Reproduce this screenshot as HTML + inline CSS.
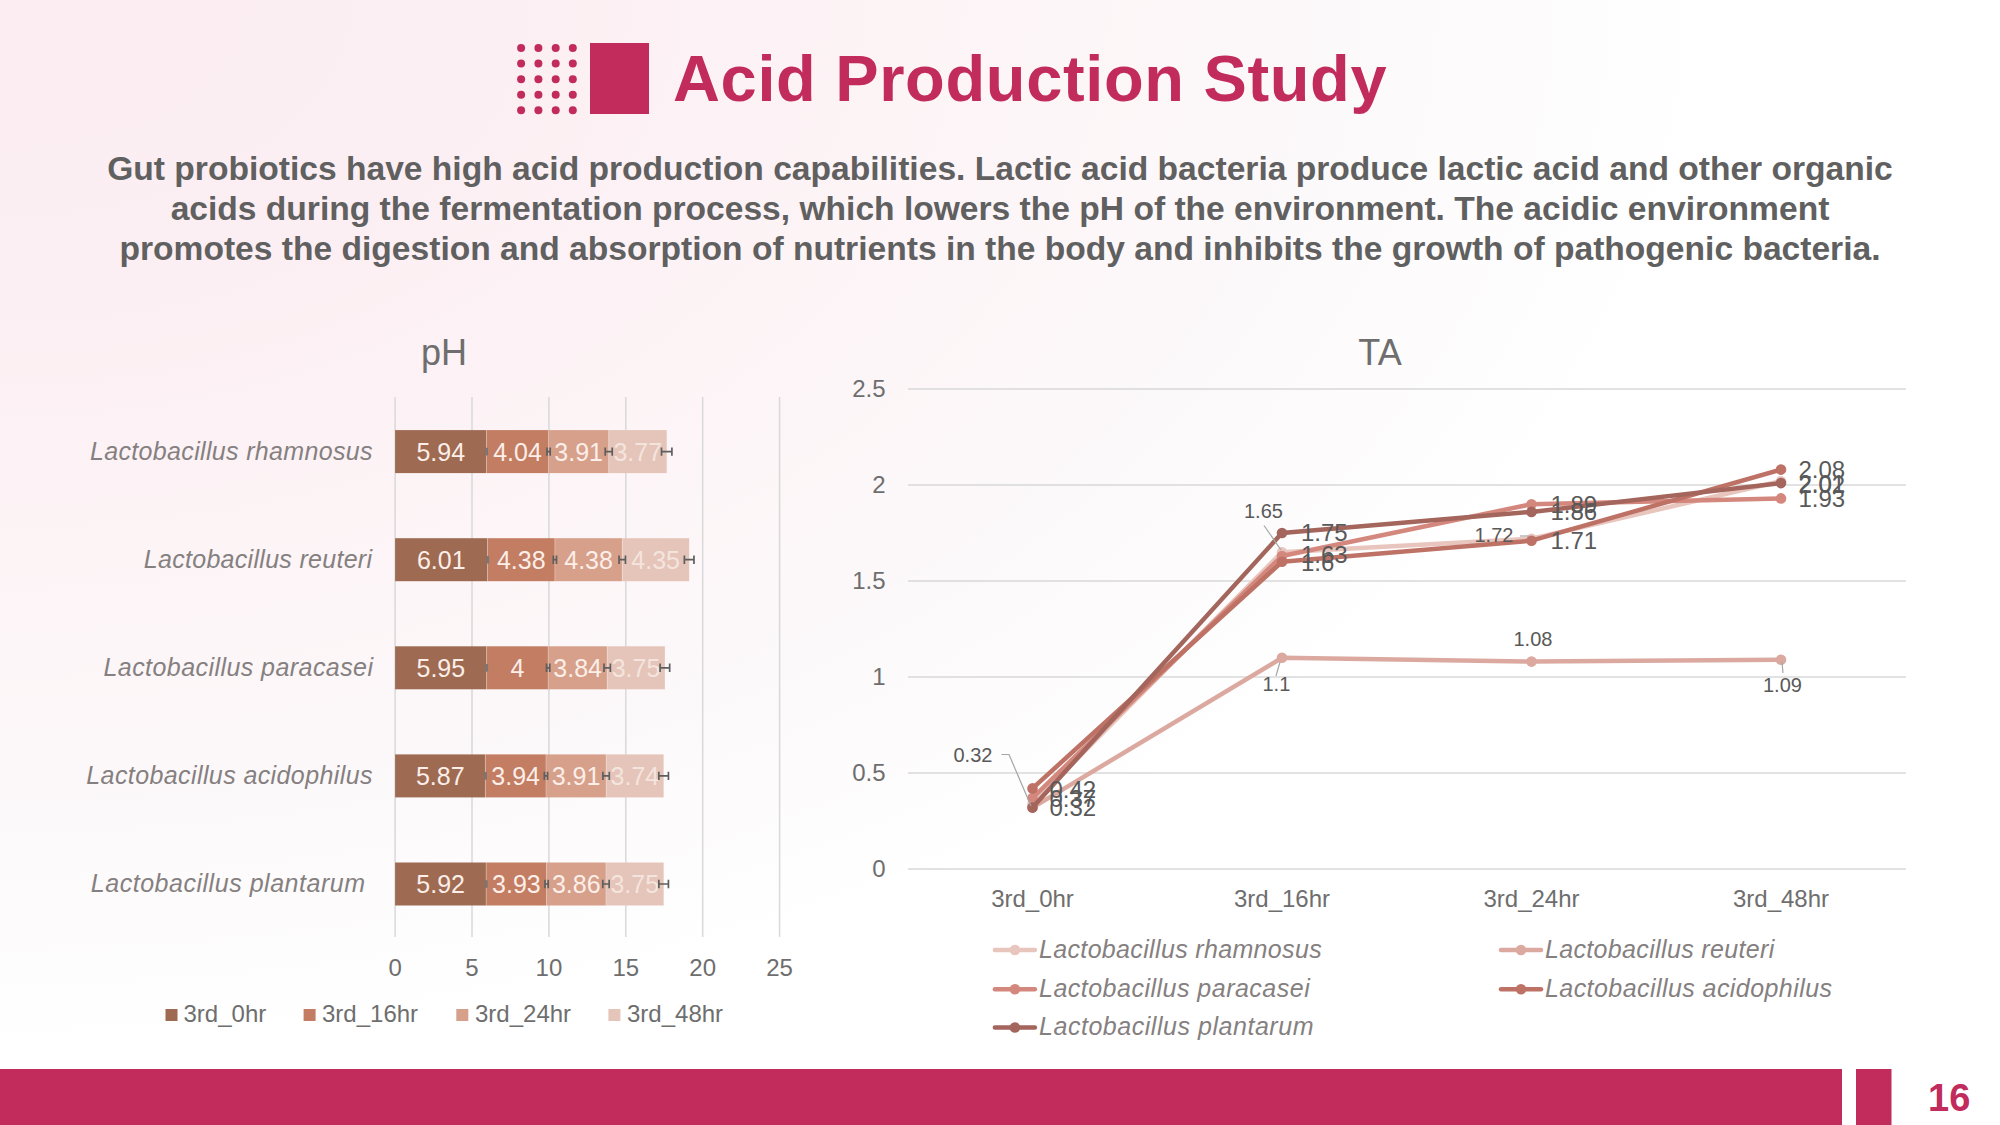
<!DOCTYPE html>
<html><head><meta charset="utf-8"><title>Acid Production Study</title>
<style>
html,body{margin:0;padding:0;}
body{width:2000px;height:1125px;overflow:hidden;position:relative;font-family:"Liberation Sans", sans-serif;
background:radial-gradient(ellipse 1800px 1100px at 0 0,#FBEDF1 0%,#FCEFF3 28%,#FDF5F7 55%,#FCF9FA 75%,#FFFFFF 95%);}
svg{position:absolute;left:0;top:0;}
</style></head><body>
<svg width="2000" height="1125" viewBox="0 0 2000 1125" font-family='"Liberation Sans", sans-serif'>

<circle cx="521.1" cy="48.0" r="4" fill="#C12C5C"/>
<circle cx="521.1" cy="63.6" r="4" fill="#C12C5C"/>
<circle cx="521.1" cy="79.2" r="4" fill="#C12C5C"/>
<circle cx="521.1" cy="94.8" r="4" fill="#C12C5C"/>
<circle cx="521.1" cy="110.2" r="4" fill="#C12C5C"/>
<circle cx="538.4" cy="48.0" r="4" fill="#C12C5C"/>
<circle cx="538.4" cy="63.6" r="4" fill="#C12C5C"/>
<circle cx="538.4" cy="79.2" r="4" fill="#C12C5C"/>
<circle cx="538.4" cy="94.8" r="4" fill="#C12C5C"/>
<circle cx="538.4" cy="110.2" r="4" fill="#C12C5C"/>
<circle cx="555.7" cy="48.0" r="4" fill="#C12C5C"/>
<circle cx="555.7" cy="63.6" r="4" fill="#C12C5C"/>
<circle cx="555.7" cy="79.2" r="4" fill="#C12C5C"/>
<circle cx="555.7" cy="94.8" r="4" fill="#C12C5C"/>
<circle cx="555.7" cy="110.2" r="4" fill="#C12C5C"/>
<circle cx="572.8" cy="48.0" r="4" fill="#C12C5C"/>
<circle cx="572.8" cy="63.6" r="4" fill="#C12C5C"/>
<circle cx="572.8" cy="79.2" r="4" fill="#C12C5C"/>
<circle cx="572.8" cy="94.8" r="4" fill="#C12C5C"/>
<circle cx="572.8" cy="110.2" r="4" fill="#C12C5C"/>
<rect x="590" y="43" width="59" height="71" fill="#C12C5C"/>
<text x="673" y="101" font-size="65" font-weight="bold" fill="#C12C5C" letter-spacing="0.65">Acid Production Study</text>
<text x="1000" y="180" font-size="33.6" font-weight="bold" fill="#606060" text-anchor="middle">Gut probiotics have high acid production capabilities. Lactic acid bacteria produce lactic acid and other organic</text>
<text x="1000" y="220" font-size="33.6" font-weight="bold" fill="#606060" text-anchor="middle">acids during the fermentation process, which lowers the pH of the environment. The acidic environment</text>
<text x="1000" y="260" font-size="33.6" font-weight="bold" fill="#606060" text-anchor="middle">promotes the digestion and absorption of nutrients in the body and inhibits the growth of pathogenic bacteria.</text>
<text x="444" y="364.5" font-size="36" fill="#6E6E6E" text-anchor="middle">pH</text>
<line x1="395.1" y1="397" x2="395.1" y2="937" stroke="#D9D9D9" stroke-width="1.5"/>
<text x="395.1" y="975.5" font-size="24" fill="#6E6E6E" text-anchor="middle">0</text>
<line x1="472.0" y1="397" x2="472.0" y2="937" stroke="#D9D9D9" stroke-width="1.5"/>
<text x="472.0" y="975.5" font-size="24" fill="#6E6E6E" text-anchor="middle">5</text>
<line x1="548.9" y1="397" x2="548.9" y2="937" stroke="#D9D9D9" stroke-width="1.5"/>
<text x="548.9" y="975.5" font-size="24" fill="#6E6E6E" text-anchor="middle">10</text>
<line x1="625.8" y1="397" x2="625.8" y2="937" stroke="#D9D9D9" stroke-width="1.5"/>
<text x="625.8" y="975.5" font-size="24" fill="#6E6E6E" text-anchor="middle">15</text>
<line x1="702.7" y1="397" x2="702.7" y2="937" stroke="#D9D9D9" stroke-width="1.5"/>
<text x="702.7" y="975.5" font-size="24" fill="#6E6E6E" text-anchor="middle">20</text>
<line x1="779.6" y1="397" x2="779.6" y2="937" stroke="#D9D9D9" stroke-width="1.5"/>
<text x="779.6" y="975.5" font-size="24" fill="#6E6E6E" text-anchor="middle">25</text>
<text x="90.0" y="459.6" font-size="25" font-style="italic" fill="#858080" textLength="282.5" lengthAdjust="spacing">Lactobacillus rhamnosus</text>
<rect x="395.10" y="430.10" width="91.36" height="43.0" fill="#9E6A51"/>
<rect x="486.46" y="430.10" width="62.14" height="43.0" fill="#C27D62"/>
<rect x="548.59" y="430.10" width="60.14" height="43.0" fill="#D6A08B"/>
<rect x="608.73" y="430.10" width="57.98" height="43.0" fill="#E5C5B9"/>
<text x="440.78" y="460.6" font-size="25" fill="#FCEEE8" text-anchor="middle">5.94</text>
<text x="517.52" y="460.6" font-size="25" fill="#FCEEE8" text-anchor="middle">4.04</text>
<text x="578.66" y="460.6" font-size="25" fill="#FCEEE8" text-anchor="middle">3.91</text>
<text x="637.72" y="460.6" font-size="25" fill="#F4E4DE" text-anchor="middle">3.77</text>
<rect x="485.96" y="430.10" width="1" height="43.0" fill="#FFFFFF" fill-opacity="0.28"/>
<rect x="548.09" y="430.10" width="1" height="43.0" fill="#FFFFFF" fill-opacity="0.28"/>
<rect x="608.23" y="430.10" width="1" height="43.0" fill="#FFFFFF" fill-opacity="0.28"/>
<rect x="484.96" y="447.8" width="3" height="7.6" fill="#7E7470"/>
<path d="M546.99 451.6H550.19M546.99 447.4V455.8M550.19 447.4V455.8" stroke="#5E5E5E" stroke-width="1.7" fill="none"/>
<path d="M605.23 451.6H612.23M605.23 447.4V455.8M612.23 447.4V455.8" stroke="#5E5E5E" stroke-width="1.7" fill="none"/>
<path d="M661.51 451.6H671.91M661.51 447.4V455.8M671.91 447.4V455.8" stroke="#5E5E5E" stroke-width="1.7" fill="none"/>
<text x="143.8" y="567.7" font-size="25" font-style="italic" fill="#858080" textLength="228.2" lengthAdjust="spacing">Lactobacillus reuteri</text>
<rect x="395.10" y="538.20" width="92.43" height="43.0" fill="#9E6A51"/>
<rect x="487.53" y="538.20" width="67.36" height="43.0" fill="#C27D62"/>
<rect x="554.90" y="538.20" width="67.36" height="43.0" fill="#D6A08B"/>
<rect x="622.26" y="538.20" width="66.90" height="43.0" fill="#E5C5B9"/>
<text x="441.32" y="568.7" font-size="25" fill="#FCEEE8" text-anchor="middle">6.01</text>
<text x="521.22" y="568.7" font-size="25" fill="#FCEEE8" text-anchor="middle">4.38</text>
<text x="588.58" y="568.7" font-size="25" fill="#FCEEE8" text-anchor="middle">4.38</text>
<text x="655.71" y="568.7" font-size="25" fill="#F4E4DE" text-anchor="middle">4.35</text>
<rect x="487.03" y="538.20" width="1" height="43.0" fill="#FFFFFF" fill-opacity="0.28"/>
<rect x="554.40" y="538.20" width="1" height="43.0" fill="#FFFFFF" fill-opacity="0.28"/>
<rect x="621.76" y="538.20" width="1" height="43.0" fill="#FFFFFF" fill-opacity="0.28"/>
<rect x="486.03" y="555.9" width="3" height="7.6" fill="#7E7470"/>
<path d="M553.30 559.7H556.50M553.30 555.5V563.9M556.50 555.5V563.9" stroke="#5E5E5E" stroke-width="1.7" fill="none"/>
<path d="M619.06 559.7H625.46M619.06 555.5V563.9M625.46 555.5V563.9" stroke="#5E5E5E" stroke-width="1.7" fill="none"/>
<path d="M684.37 559.7H693.97M684.37 555.5V563.9M693.97 555.5V563.9" stroke="#5E5E5E" stroke-width="1.7" fill="none"/>
<text x="103.5" y="675.8" font-size="25" font-style="italic" fill="#858080" textLength="269.5" lengthAdjust="spacing">Lactobacillus paracasei</text>
<rect x="395.10" y="646.30" width="91.51" height="43.0" fill="#9E6A51"/>
<rect x="486.61" y="646.30" width="61.52" height="43.0" fill="#C27D62"/>
<rect x="548.13" y="646.30" width="59.06" height="43.0" fill="#D6A08B"/>
<rect x="607.19" y="646.30" width="57.68" height="43.0" fill="#E5C5B9"/>
<text x="440.86" y="676.8" font-size="25" fill="#FCEEE8" text-anchor="middle">5.95</text>
<text x="517.37" y="676.8" font-size="25" fill="#FCEEE8" text-anchor="middle">4</text>
<text x="577.66" y="676.8" font-size="25" fill="#FCEEE8" text-anchor="middle">3.84</text>
<text x="636.03" y="676.8" font-size="25" fill="#F4E4DE" text-anchor="middle">3.75</text>
<rect x="486.11" y="646.30" width="1" height="43.0" fill="#FFFFFF" fill-opacity="0.28"/>
<rect x="547.63" y="646.30" width="1" height="43.0" fill="#FFFFFF" fill-opacity="0.28"/>
<rect x="606.69" y="646.30" width="1" height="43.0" fill="#FFFFFF" fill-opacity="0.28"/>
<rect x="485.11" y="664.0" width="3" height="7.6" fill="#7E7470"/>
<path d="M546.53 667.8H549.73M546.53 663.6V672.0M549.73 663.6V672.0" stroke="#5E5E5E" stroke-width="1.7" fill="none"/>
<path d="M603.99 667.8H610.39M603.99 663.6V672.0M610.39 663.6V672.0" stroke="#5E5E5E" stroke-width="1.7" fill="none"/>
<path d="M660.07 667.8H669.67M660.07 663.6V672.0M669.67 663.6V672.0" stroke="#5E5E5E" stroke-width="1.7" fill="none"/>
<text x="86.3" y="783.9" font-size="25" font-style="italic" fill="#858080" textLength="286.2" lengthAdjust="spacing">Lactobacillus acidophilus</text>
<rect x="395.10" y="754.40" width="90.28" height="43.0" fill="#9E6A51"/>
<rect x="485.38" y="754.40" width="60.60" height="43.0" fill="#C27D62"/>
<rect x="545.98" y="754.40" width="60.14" height="43.0" fill="#D6A08B"/>
<rect x="606.11" y="754.40" width="57.52" height="43.0" fill="#E5C5B9"/>
<text x="440.24" y="784.9" font-size="25" fill="#FCEEE8" text-anchor="middle">5.87</text>
<text x="515.68" y="784.9" font-size="25" fill="#FCEEE8" text-anchor="middle">3.94</text>
<text x="576.05" y="784.9" font-size="25" fill="#FCEEE8" text-anchor="middle">3.91</text>
<text x="634.87" y="784.9" font-size="25" fill="#F4E4DE" text-anchor="middle">3.74</text>
<rect x="484.88" y="754.40" width="1" height="43.0" fill="#FFFFFF" fill-opacity="0.28"/>
<rect x="545.48" y="754.40" width="1" height="43.0" fill="#FFFFFF" fill-opacity="0.28"/>
<rect x="605.61" y="754.40" width="1" height="43.0" fill="#FFFFFF" fill-opacity="0.28"/>
<rect x="483.88" y="772.1" width="3" height="7.6" fill="#7E7470"/>
<path d="M544.38 775.9H547.58M544.38 771.7V780.1M547.58 771.7V780.1" stroke="#5E5E5E" stroke-width="1.7" fill="none"/>
<path d="M602.91 775.9H609.31M602.91 771.7V780.1M609.31 771.7V780.1" stroke="#5E5E5E" stroke-width="1.7" fill="none"/>
<path d="M658.83 775.9H668.43M658.83 771.7V780.1M668.43 771.7V780.1" stroke="#5E5E5E" stroke-width="1.7" fill="none"/>
<text x="90.8" y="892.0" font-size="25" font-style="italic" fill="#858080" textLength="274.2" lengthAdjust="spacing">Lactobacillus plantarum</text>
<rect x="395.10" y="862.50" width="91.05" height="43.0" fill="#9E6A51"/>
<rect x="486.15" y="862.50" width="60.44" height="43.0" fill="#C27D62"/>
<rect x="546.59" y="862.50" width="59.37" height="43.0" fill="#D6A08B"/>
<rect x="605.96" y="862.50" width="57.68" height="43.0" fill="#E5C5B9"/>
<text x="440.62" y="893.0" font-size="25" fill="#FCEEE8" text-anchor="middle">5.92</text>
<text x="516.37" y="893.0" font-size="25" fill="#FCEEE8" text-anchor="middle">3.93</text>
<text x="576.28" y="893.0" font-size="25" fill="#FCEEE8" text-anchor="middle">3.86</text>
<text x="634.80" y="893.0" font-size="25" fill="#F4E4DE" text-anchor="middle">3.75</text>
<rect x="485.65" y="862.50" width="1" height="43.0" fill="#FFFFFF" fill-opacity="0.28"/>
<rect x="546.09" y="862.50" width="1" height="43.0" fill="#FFFFFF" fill-opacity="0.28"/>
<rect x="605.46" y="862.50" width="1" height="43.0" fill="#FFFFFF" fill-opacity="0.28"/>
<rect x="484.65" y="880.2" width="3" height="7.6" fill="#7E7470"/>
<path d="M544.99 884.0H548.19M544.99 879.8V888.2M548.19 879.8V888.2" stroke="#5E5E5E" stroke-width="1.7" fill="none"/>
<path d="M602.76 884.0H609.16M602.76 879.8V888.2M609.16 879.8V888.2" stroke="#5E5E5E" stroke-width="1.7" fill="none"/>
<path d="M658.83 884.0H668.43M658.83 879.8V888.2M668.43 879.8V888.2" stroke="#5E5E5E" stroke-width="1.7" fill="none"/>
<rect x="165.5" y="1009" width="12" height="12" fill="#9E6A51"/>
<text x="183.5" y="1022" font-size="24" fill="#6E6E6E">3rd_0hr</text>
<rect x="303.6" y="1009" width="12" height="12" fill="#C27D62"/>
<text x="322.0" y="1022" font-size="24" fill="#6E6E6E">3rd_16hr</text>
<rect x="456.3" y="1009" width="12" height="12" fill="#D6A08B"/>
<text x="475.0" y="1022" font-size="24" fill="#6E6E6E">3rd_24hr</text>
<rect x="608.4" y="1009" width="12" height="12" fill="#E5C5B9"/>
<text x="627.0" y="1022" font-size="24" fill="#6E6E6E">3rd_48hr</text>
<text x="1380" y="364.5" font-size="36" fill="#6E6E6E" text-anchor="middle">TA</text>
<line x1="908" y1="869.0" x2="1906" y2="869.0" stroke="#D9D9D9" stroke-width="1.5"/>
<text x="885.5" y="877.4" font-size="24" fill="#6E6E6E" text-anchor="end">0</text>
<line x1="908" y1="773.0" x2="1906" y2="773.0" stroke="#D9D9D9" stroke-width="1.5"/>
<text x="885.5" y="781.4" font-size="24" fill="#6E6E6E" text-anchor="end">0.5</text>
<line x1="908" y1="677.0" x2="1906" y2="677.0" stroke="#D9D9D9" stroke-width="1.5"/>
<text x="885.5" y="685.4" font-size="24" fill="#6E6E6E" text-anchor="end">1</text>
<line x1="908" y1="581.0" x2="1906" y2="581.0" stroke="#D9D9D9" stroke-width="1.5"/>
<text x="885.5" y="589.4" font-size="24" fill="#6E6E6E" text-anchor="end">1.5</text>
<line x1="908" y1="485.0" x2="1906" y2="485.0" stroke="#D9D9D9" stroke-width="1.5"/>
<text x="885.5" y="493.4" font-size="24" fill="#6E6E6E" text-anchor="end">2</text>
<line x1="908" y1="389.0" x2="1906" y2="389.0" stroke="#D9D9D9" stroke-width="1.5"/>
<text x="885.5" y="397.4" font-size="24" fill="#6E6E6E" text-anchor="end">2.5</text>
<text x="1032.5" y="907" font-size="24" fill="#6E6E6E" text-anchor="middle">3rd_0hr</text>
<text x="1282.0" y="907" font-size="24" fill="#6E6E6E" text-anchor="middle">3rd_16hr</text>
<text x="1531.5" y="907" font-size="24" fill="#6E6E6E" text-anchor="middle">3rd_24hr</text>
<text x="1781.0" y="907" font-size="24" fill="#6E6E6E" text-anchor="middle">3rd_48hr</text>
<polyline points="1032.5,803.7 1282.0,552.2 1531.5,538.8 1781.0,481.2" fill="none" stroke="#E8C5BD" stroke-width="4.5" stroke-linejoin="round" stroke-linecap="round"/>
<circle cx="1032.5" cy="803.7" r="5.3" fill="#E8C5BD"/>
<circle cx="1282.0" cy="552.2" r="5.3" fill="#E8C5BD"/>
<circle cx="1531.5" cy="538.8" r="5.3" fill="#E8C5BD"/>
<circle cx="1781.0" cy="481.2" r="5.3" fill="#E8C5BD"/>
<polyline points="1032.5,807.6 1282.0,657.8 1531.5,661.6 1781.0,659.7" fill="none" stroke="#DCA9A0" stroke-width="4.5" stroke-linejoin="round" stroke-linecap="round"/>
<circle cx="1032.5" cy="807.6" r="5.3" fill="#DCA9A0"/>
<circle cx="1282.0" cy="657.8" r="5.3" fill="#DCA9A0"/>
<circle cx="1531.5" cy="661.6" r="5.3" fill="#DCA9A0"/>
<circle cx="1781.0" cy="659.7" r="5.3" fill="#DCA9A0"/>
<polyline points="1032.5,798.0 1282.0,556.0 1531.5,504.2 1781.0,498.4" fill="none" stroke="#D4877C" stroke-width="4.5" stroke-linejoin="round" stroke-linecap="round"/>
<circle cx="1032.5" cy="798.0" r="5.3" fill="#D4877C"/>
<circle cx="1282.0" cy="556.0" r="5.3" fill="#D4877C"/>
<circle cx="1531.5" cy="504.2" r="5.3" fill="#D4877C"/>
<circle cx="1781.0" cy="498.4" r="5.3" fill="#D4877C"/>
<polyline points="1032.5,788.4 1282.0,561.8 1531.5,540.7 1781.0,469.6" fill="none" stroke="#BD7265" stroke-width="4.5" stroke-linejoin="round" stroke-linecap="round"/>
<circle cx="1032.5" cy="788.4" r="5.3" fill="#BD7265"/>
<circle cx="1282.0" cy="561.8" r="5.3" fill="#BD7265"/>
<circle cx="1531.5" cy="540.7" r="5.3" fill="#BD7265"/>
<circle cx="1781.0" cy="469.6" r="5.3" fill="#BD7265"/>
<polyline points="1032.5,807.6 1282.0,533.0 1531.5,511.9 1781.0,483.1" fill="none" stroke="#A3655C" stroke-width="4.5" stroke-linejoin="round" stroke-linecap="round"/>
<circle cx="1032.5" cy="807.6" r="5.3" fill="#A3655C"/>
<circle cx="1282.0" cy="533.0" r="5.3" fill="#A3655C"/>
<circle cx="1531.5" cy="511.9" r="5.3" fill="#A3655C"/>
<circle cx="1781.0" cy="483.1" r="5.3" fill="#A3655C"/>
<text x="1049.5" y="797.7" font-size="24" fill="#595959">0.42</text>
<text x="1049.5" y="806.8" font-size="24" fill="#595959">0.37</text>
<text x="1049.5" y="816.4" font-size="24" fill="#595959">0.32</text>
<text x="953.5" y="761.6" font-size="20" fill="#595959">0.32</text>
<path d="M1001.5 754.5H1009L1031 806" stroke="#A6A6A6" stroke-width="1.2" fill="none"/>
<text x="1301.0" y="540.5" font-size="24" fill="#595959">1.75</text>
<text x="1301.0" y="563.0" font-size="24" fill="#595959">1.63</text>
<text x="1301.0" y="570.5" font-size="24" fill="#595959">1.6</text>
<text x="1244.0" y="517.6" font-size="20" fill="#595959">1.65</text>
<path d="M1264 525.5L1281 550" stroke="#A6A6A6" stroke-width="1.2" fill="none"/>
<text x="1262.5" y="690.7" font-size="20" fill="#595959">1.1</text>
<path d="M1276 676L1280 662" stroke="#A6A6A6" stroke-width="1.2" fill="none"/>
<text x="1550.5" y="512.5" font-size="24" fill="#595959">1.89</text>
<text x="1550.5" y="520.0" font-size="24" fill="#595959">1.86</text>
<text x="1550.5" y="549.3" font-size="24" fill="#595959">1.71</text>
<text x="1474.5" y="542.0" font-size="20" fill="#595959">1.72</text>
<path d="M1520 536H1529" stroke="#A6A6A6" stroke-width="1.2" fill="none"/>
<text x="1513.5" y="646.0" font-size="20" fill="#595959">1.08</text>
<text x="1798.5" y="477.5" font-size="24" fill="#595959">2.08</text>
<text x="1798.5" y="491.5" font-size="24" fill="#595959">2.01</text>
<text x="1798.5" y="492.5" font-size="24" fill="#595959">2.02</text>
<text x="1798.5" y="507.0" font-size="24" fill="#595959">1.93</text>
<text x="1763.0" y="692.0" font-size="20" fill="#595959">1.09</text>
<path d="M1782 662L1783 673" stroke="#A6A6A6" stroke-width="1.2" fill="none"/>
<line x1="994.9" y1="950" x2="1034.9" y2="950" stroke="#E8C5BD" stroke-width="4.5" stroke-linecap="round"/>
<circle cx="1014.9" cy="950" r="5.3" fill="#E8C5BD"/>
<text x="1039.0" y="957.8" font-size="25" font-style="italic" fill="#858080" textLength="282.7" lengthAdjust="spacing">Lactobacillus rhamnosus</text>
<line x1="1501" y1="950" x2="1541" y2="950" stroke="#DCA9A0" stroke-width="4.5" stroke-linecap="round"/>
<circle cx="1521" cy="950" r="5.3" fill="#DCA9A0"/>
<text x="1545.0" y="957.8" font-size="25" font-style="italic" fill="#858080" textLength="229.2" lengthAdjust="spacing">Lactobacillus reuteri</text>
<line x1="994.9" y1="989.3" x2="1034.9" y2="989.3" stroke="#D4877C" stroke-width="4.5" stroke-linecap="round"/>
<circle cx="1014.9" cy="989.3" r="5.3" fill="#D4877C"/>
<text x="1039.0" y="997.1" font-size="25" font-style="italic" fill="#858080" textLength="270.7" lengthAdjust="spacing">Lactobacillus paracasei</text>
<line x1="1501" y1="989.3" x2="1541" y2="989.3" stroke="#BD7265" stroke-width="4.5" stroke-linecap="round"/>
<circle cx="1521" cy="989.3" r="5.3" fill="#BD7265"/>
<text x="1545.0" y="997.1" font-size="25" font-style="italic" fill="#858080" textLength="287.0" lengthAdjust="spacing">Lactobacillus acidophilus</text>
<line x1="994.9" y1="1027.5" x2="1034.9" y2="1027.5" stroke="#A3655C" stroke-width="4.5" stroke-linecap="round"/>
<circle cx="1014.9" cy="1027.5" r="5.3" fill="#A3655C"/>
<text x="1039.0" y="1035.3" font-size="25" font-style="italic" fill="#858080" textLength="274.5" lengthAdjust="spacing">Lactobacillus plantarum</text>
<rect x="0" y="1069" width="1842" height="56" fill="#C12C5C"/>
<rect x="1856" y="1069" width="35.5" height="56" fill="#C12C5C"/>
<text x="1928" y="1111" font-size="38" font-weight="bold" fill="#C12C5C">16</text>
</svg>
</body></html>
